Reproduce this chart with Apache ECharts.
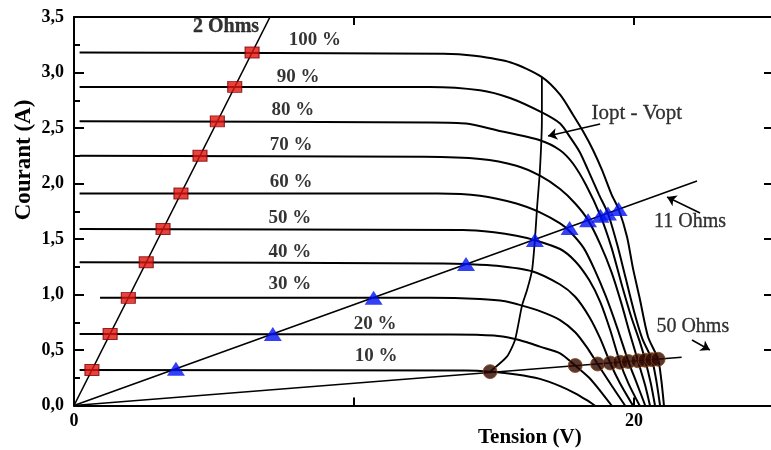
<!DOCTYPE html>
<html><head><meta charset="utf-8">
<script src="https://cdn.jsdelivr.net/npm/echarts@6/dist/echarts.min.js"></script>
<style>html,body{margin:0;padding:0;background:#fff}#c{width:771px;height:450px}</style>
</head><body><div id="c"></div>
<script>
// ---- data (Tension V, Courant A) ----
const irradianceLabels = ['10 %','20 %','30 %','40 %','50 %','60 %','70 %','80 %','90 %','100 %'];
const curve10 = [[0.2,0.32],[14.0,0.315],[14.86,0.305],[15.8,0.28],[16.64,0.24],[17.36,0.175],[17.9,0.11],[18.3,0.05],[18.6,0]];
const curve20 = [[0.2,0.644],[13.5,0.64],[15.0,0.63],[15.75,0.6],[16.18,0.57],[16.64,0.53],[17.36,0.47],[17.9,0.36],[18.4,0.25],[18.8,0.13],[19.2,0]];
const curve30 = [[0.93,0.97],[12.7,0.97],[14.5,0.96],[15.4,0.94],[16.0,0.9],[16.64,0.85],[17.36,0.77],[17.9,0.66],[18.3,0.53],[18.7,0.374],[19.2,0.18],[19.68,0]];
const curve40 = [[0.2,1.29],[13.2,1.28],[14.0,1.275],[15.1,1.26],[16.36,1.21],[17.36,1.09],[17.9,0.98],[18.4,0.8],[18.8,0.6],[19.15,0.383],[19.5,0.2],[19.96,0]];
const curve50 = [[0.2,1.59],[13.9,1.58],[15.0,1.56],[15.8,1.53],[16.46,1.49],[17.36,1.41],[17.9,1.3],[18.4,1.13],[18.8,0.93],[19.15,0.68],[19.5,0.39],[19.8,0.2],[20.2,0]];
const curve60 = [[0.2,1.91],[13.0,1.91],[14.5,1.89],[15.8,1.82],[16.64,1.74],[17.36,1.64],[17.7,1.57],[18.2,1.42],[18.6,1.22],[19.0,0.98],[19.4,0.7],[19.8,0.396],[20.1,0.2],[20.4,0]];
const curve70 = [[0.2,2.25],[12.5,2.24],[14.5,2.22],[15.8,2.16],[16.64,2.07],[17.36,1.95],[17.9,1.82],[18.36,1.67],[18.8,1.45],[19.2,1.2],[19.55,0.92],[19.85,0.65],[20.14,0.403],[20.4,0.18],[20.57,0]];
const curve80 = [[0.2,2.56],[12.7,2.55],[14.0,2.54],[15.1,2.48],[16.64,2.39],[17.36,2.3],[17.82,2.18],[18.3,1.98],[18.8,1.71],[19.2,1.42],[19.55,1.1],[19.9,0.8],[20.2,0.58],[20.4,0.408],[20.6,0.2],[20.75,0]];
const curve90 = [[0.2,2.87],[12.7,2.87],[14.5,2.84],[15.57,2.77],[16.71,2.64],[17.36,2.54],[17.71,2.42],[18.07,2.28],[18.36,2.12],[18.75,1.9],[19.07,1.73],[19.4,1.45],[19.7,1.15],[20.0,0.85],[20.3,0.6],[20.64,0.413],[20.8,0.22],[20.93,0]];
const curve100 = [[0.2,3.18],[13.2,3.17],[14.3,3.15],[15.6,3.09],[16.7,2.96],[17.36,2.8],[17.82,2.62],[18.18,2.47],[18.54,2.3],[18.86,2.12],[19.2,1.9],[19.45,1.77],[19.75,1.52],[19.96,1.24],[20.2,0.97],[20.5,0.62],[20.86,0.417],[20.98,0.22],[21.07,0]];
const ivCurves = [curve10,curve20,curve30,curve40,curve50,curve60,curve70,curve80,curve90,curve100];

const load2 = [[0,0],[7,3.5]];
const load11 = [[0,0],[22.25,2.023]];
const load50 = [[0,0],[21.7,0.434]];
const points2 = [[0.64,0.32],[1.29,0.644],[1.94,0.97],[2.58,1.29],[3.18,1.59],[3.82,1.91],[4.5,2.25],[5.12,2.56],[5.74,2.87],[6.36,3.18]];
const points11 = [[3.64,0.33],[7.1,0.645],[10.7,0.97],[14.0,1.275],[16.46,1.49],[17.7,1.6],[18.36,1.67],[18.8,1.71],[19.07,1.73],[19.45,1.77]];
const points50 = [[14.86,0.305],[17.9,0.36],[18.7,0.374],[19.15,0.383],[19.5,0.39],[19.8,0.396],[20.14,0.403],[20.4,0.408],[20.64,0.413],[20.86,0.417]];
const ioptVopt = [[14.86,0.305],[15.46,0.44],[15.75,0.59],[16.0,0.9],[16.18,1.04],[16.36,1.22],[16.46,1.49],[16.54,1.79],[16.64,2.12],[16.71,2.57],[16.71,2.96]];

const xTickLabels = ['0','20'];
const yTickLabels = ['0,0','0,5','1,0','1,5','2,0','2,5','3,0','3,5'];

// annotation anchors (data coords)
const pctLabelPos = [[10.79,0.446],[10.75,0.734],[7.71,1.095],[7.71,1.38],[7.71,1.69],[7.75,2.01],[7.75,2.35],[7.82,2.66],[8.0,2.96],[8.6,3.29]];
const noteTexts = [[5.43,3.41,'2 Ohms',true],[20.1,2.635,'Iopt - Vopt',false],[22.0,1.653,'11 Ohms',false],[22.1,0.707,'50 Ohms',false]];
const arrows = [[[18.79,2.536],[16.93,2.428]],[[22.36,1.734],[21.18,1.878]],[[22.07,0.59],[22.71,0.5]]];

const FF = '"Liberation Serif","Times New Roman",serif';
const chart = echarts.init(document.getElementById('c'), null, {renderer:'canvas'});
const axisLine = {show:true, onZero:false, lineStyle:{color:'#000', width:2}};
const series = [];
ivCurves.forEach((c,i)=>series.push({type:'line', data:c, showSymbol:false, smooth:0.25, lineStyle:{color:'#000',width:2}, z:2, silent:true}));
series.push({type:'line', data:load2, showSymbol:false, lineStyle:{color:'#000',width:1.6}, z:3});
series.push({type:'line', data:load11, showSymbol:false, lineStyle:{color:'#000',width:1.6}, z:3,
  markLine:{silent:true, symbol:['none','arrow'], symbolSize:9, label:{show:false},
    lineStyle:{color:'#000', width:1.5, type:'solid'},
    data: arrows.map(a=>[{coord:a[0]},{coord:a[1]}])}});
series.push({type:'line', data:load50, showSymbol:false, lineStyle:{color:'#000',width:1.6}, z:3});
series.push({type:'line', data:ioptVopt, showSymbol:false, smooth:0.2, lineStyle:{color:'#000',width:1.8}, z:3});
series.push({type:'scatter', data:points2, symbol:'rect', symbolSize:[14,11], itemStyle:{color:'#e0140f', borderColor:'#7a0000', borderWidth:1}, z:5});
series.push({type:'scatter', data:points11, symbol:'triangle', symbolSize:[18,14], itemStyle:{color:'#0010f0'}, z:5});
series.push({type:'scatter', data:points50, symbol:'circle', symbolSize:14, itemStyle:{color:'#2e0600', borderColor:'#8a4a10', borderWidth:1}, z:5});
series.push({type:'scatter', data:pctLabelPos.map((p,i)=>[p[0],p[1],irradianceLabels[i]]), symbolSize:0, z:6,
  label:{show:true, position:'inside', formatter:p=>p.data[2], fontFamily:FF, fontWeight:'bold', fontSize:19, color:'#000'}});
series.push({type:'scatter', data:noteTexts.map(n=>({value:[n[0],n[1]], label:{formatter:n[2], fontWeight:n[3]?'bold':'normal', fontSize:n[2]==='Iopt - Vopt'?21:20}})), symbolSize:0, z:6,
  label:{show:true, position:'inside', fontFamily:FF, fontSize:20, color:'#000', textBorderColor:'#000', textBorderWidth:0.3}});

chart.setOption({
  animation:false,
  backgroundColor:'#fff',
  grid:{left:74, top:17, width:700, height:388.5, containLabel:false, outerBoundsMode:'none'},
  xAxis:[
    {type:'value', min:0, max:25, interval:10, position:'bottom', axisLine, splitLine:{show:false},
     axisTick:{inside:true, length:8, lineStyle:{color:'#000', width:2}},
     axisLabel:{formatter:v=> (v===0?xTickLabels[0]:(v===20?xTickLabels[1]:'')), fontFamily:FF, fontWeight:'bold', fontSize:18, color:'#000', margin:7}},
    {type:'value', min:0, max:25, interval:10, position:'top', axisLine, splitLine:{show:false},
     axisTick:{inside:true, length:8, lineStyle:{color:'#000', width:2}}, axisLabel:{show:false}}
  ],
  yAxis:[
    {type:'value', min:0, max:3.5, interval:0.5, position:'left', axisLine, splitLine:{show:false},
     axisTick:{inside:true, length:10, lineStyle:{color:'#000', width:2}},
     minorTick:{show:true, splitNumber:2, length:6, lineStyle:{color:'#000', width:2}},
     axisLabel:{formatter:v=>yTickLabels[Math.round(v*2)]||'', fontFamily:FF, fontWeight:'bold', fontSize:18, color:'#000', margin:10}},
    {type:'value', min:0, max:3.5, interval:0.5, position:'right', axisLine, splitLine:{show:false},
     axisTick:{inside:true, length:10, lineStyle:{color:'#000', width:2}}, axisLabel:{show:false}}
  ],
  graphic:[
    {type:'text', left:478, top:427, style:{text:'Tension (V)', font:'bold 21px '+FF, fill:'#000'}},
    {type:'text', x:24, y:160, rotation:Math.PI/2, style:{text:'Courant (A)', font:'bold 23px '+FF, fill:'#000', align:'center', verticalAlign:'middle', textAlign:'center', textVerticalAlign:'middle'}}
  ],
  series
});
</script></body></html>
